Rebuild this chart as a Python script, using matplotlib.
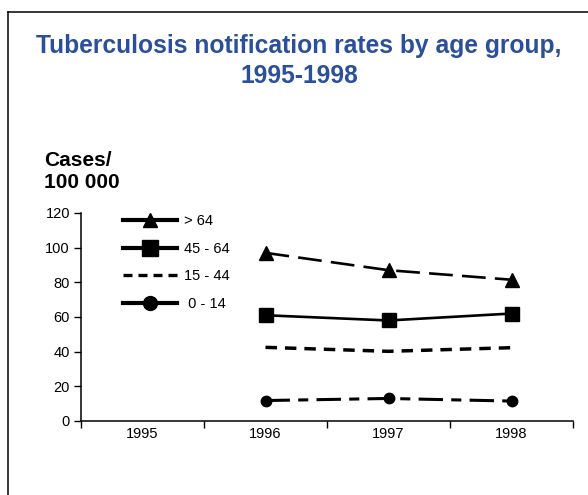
import matplotlib
matplotlib.use('Agg')
import matplotlib.pyplot as plt
from matplotlib.lines import Line2D

plt.rcParams['font.family'] = ['Liberation Sans', 'DejaVu Sans']

years = ['1995', '1996', '1997', '1998']
plot_years = ['1996', '1997', '1998']
age_groups = ['> 64', '45 - 64', '15 - 44', ' 0 - 14']
rate_over64 = [97, 87, 81.5]
rate_45_64 = [61, 58, 62]
rate_15_44 = [42.5, 40.2, 42.3]
rate_0_14 = [11.8, 13, 11.5]

title_color = '#2b4f9b'

fig = plt.figure(figsize=(5.88, 4.95), dpi=100)

# outer frame, only top and left show in the crop
fig.add_artist(Line2D([8 / 588, 8 / 588], [0, 1 - 12 / 495], color='black', lw=1.1))
fig.add_artist(Line2D([8 / 588, 1], [1 - 12 / 495, 1 - 12 / 495], color='black', lw=1.1))

fig.text(299 / 588, 1 - 61 / 495, 'Tuberculosis notification rates by age group,\n1995-1998',
         ha='center', va='center', fontsize=17.7, fontweight='bold', color=title_color,
         linespacing=1.35)
fig.text(44 / 588, 1 - 172 / 495, 'Cases/\n100 000', ha='left', va='center',
         fontsize=15, fontweight='bold', linespacing=1.2)

ax = fig.add_axes([81 / 588, 74 / 495, 492 / 588, 208 / 495])
xpos = [years.index(y) for y in plot_years]

ax.plot(xpos, rate_over64, color='black', lw=1.9, ls=(0, (9, 3.5)), marker='^', markersize=9.5)
ax.plot(xpos, rate_45_64, color='black', lw=1.9, ls='-', marker='s', markersize=10)
ax.plot(xpos, rate_15_44, color='black', lw=2.5, ls=(0, (3.3, 2.3)))
ax.plot(xpos, rate_0_14, color='black', lw=2.2, ls=(0, (8, 2.7, 3.3, 2.7)), marker='o', markersize=7.5)

ax.set_xlim(-0.5, len(years) - 0.5)
ax.set_ylim(0, 120)
ax.set_yticks(range(0, 121, 20))
ax.set_xticks([i - 0.5 for i in range(len(years) + 1)])
ax.set_xticklabels([])
ax.set_xticks(range(len(years)), minor=True)
ax.set_xticklabels(years, minor=True)
ax.tick_params(axis='x', which='minor', length=0, pad=4, labelsize=10.5)
ax.tick_params(axis='x', which='major', length=5, width=1, direction='out')
ax.tick_params(axis='y', length=5, width=1, direction='out', labelsize=10.5, pad=3)
for s in ['top', 'right']:
    ax.spines[s].set_visible(False)
for s in ['left', 'bottom']:
    ax.spines[s].set_linewidth(1.1)

handles = [
    Line2D([], [], color='black', lw=3, marker='^', markersize=10),
    Line2D([], [], color='black', lw=3, marker='s', markersize=11),
    Line2D([], [], color='black', lw=2.4, ls=(0, (2.7, 1.8))),
    Line2D([], [], color='black', lw=3, marker='o', markersize=10),
]
ax.legend(handles, age_groups, loc='upper left', bbox_to_anchor=(110 / 588, 1 - 201 / 495),
          bbox_transform=fig.transFigure, frameon=False, fontsize=10.5,
          handlelength=3.7, handletextpad=0.5, labelspacing=0.93)

fig.savefig('out.png', dpi=100, facecolor='white')
